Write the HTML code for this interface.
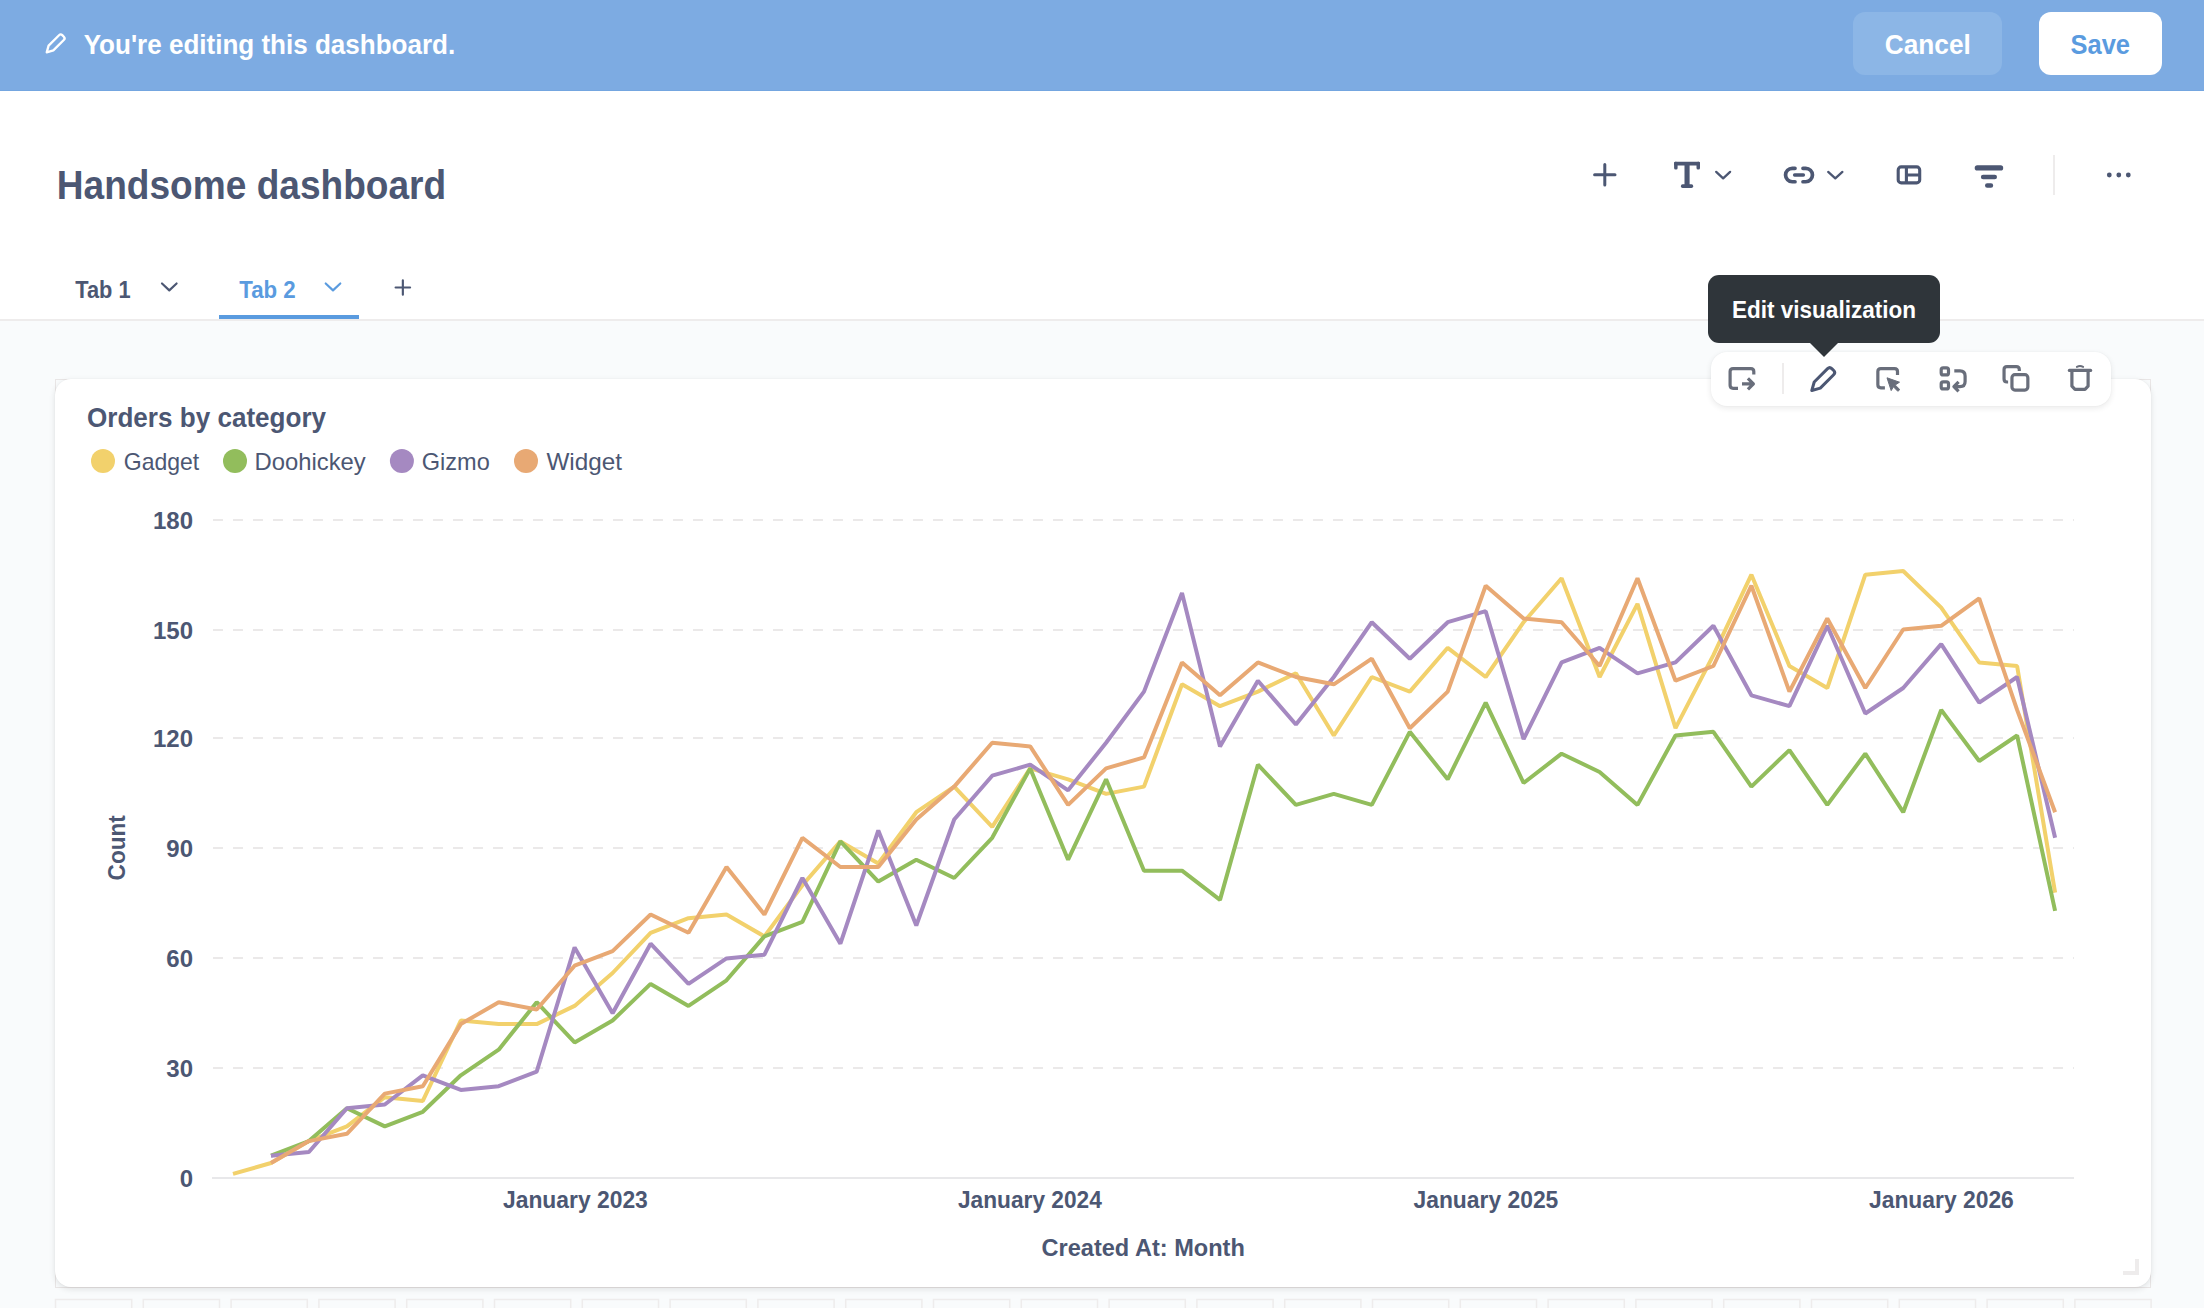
<!DOCTYPE html>
<html lang="en">
<head>
<meta charset="utf-8">
<title>Handsome dashboard</title>
<style>
html,body{margin:0;padding:0}
body{width:2204px;height:1308px;overflow:hidden;background:#F9FBFC;position:relative;
  font-family:"Liberation Sans",sans-serif;color:#4C5773}
svg{position:absolute;left:0;top:0;overflow:visible}
svg text{font-family:"Liberation Sans",sans-serif}
.editbar{position:absolute;left:0;top:0;width:2204px;height:91px;background:linear-gradient(#7DABE2 0,#7DABE2 90px,#74A6E0 90px)}
.btn{position:absolute;top:12px;height:63px;border-radius:12px}
.cancel{left:1853px;width:149px;background:#8CB6E6}
.save{left:2039px;width:123px;background:#fff}
.header{position:absolute;left:0;top:91px;width:2204px;height:228px;background:#fff;border-bottom:2px solid #EEECEC}
.tabline{position:absolute;left:219px;top:315px;width:140px;height:4px;background:#5A9BDF}
.divider{position:absolute;left:2053px;top:155px;width:2px;height:40px;background:#EEECEC}
.cellbg{position:absolute;left:55px;top:379px;width:2096px;height:909px;box-sizing:border-box;border:1px solid #E9E6E6;background:#F9FBFC}
.card{position:absolute;left:55px;top:379px;width:2096px;height:908px;background:#fff;border-radius:16px;
  box-shadow:0 2px 6px rgba(0,0,0,.11),0 0 2px rgba(0,0,0,.04)}
.actions{position:absolute;left:1711px;top:352px;width:400px;height:54px;background:#fff;border-radius:16px;
  box-shadow:0 2px 6px rgba(0,0,0,.09),0 0 2px rgba(0,0,0,.04)}
.adiv{position:absolute;left:1782px;top:363px;width:2px;height:31px;background:#EEECEC}
.tooltip{position:absolute;left:1708px;top:275px;width:232px;height:68px;background:#2F353A;border-radius:11px}
.tooltip:after{content:"";position:absolute;left:102px;top:68px;border-left:14px solid transparent;border-right:14px solid transparent;border-top:14px solid #2F353A}
</style>
</head>
<body>

<!-- edit bar -->
<div class="editbar">
  <div class="btn cancel"></div>
  <div class="btn save"></div>
  <svg width="2204" height="90" viewBox="0 0 2204 90">
    <g transform="translate(45.8,53.2) rotate(-45) scale(0.78)" fill="none" stroke="#fff" stroke-width="3" stroke-linejoin="round">
      <path d="M1.7,0 L9.4,-4.3 L28.3,-4.3 Q31.3,-4.3 31.3,-1.4 L31.3,1.4 Q31.3,4.3 28.3,4.3 L9.4,4.3 Z"/>
    </g>
    <text x="83.69" y="53.5" font-size="28" font-weight="bold" fill="#fff" textLength="371.5" lengthAdjust="spacingAndGlyphs">You're editing this dashboard.</text>
    <text x="1884.84" y="54" font-size="28" font-weight="bold" fill="#fff" textLength="86.0" lengthAdjust="spacingAndGlyphs">Cancel</text>
    <text x="2070.56" y="54" font-size="28" font-weight="bold" fill="#5A9BDF" textLength="59.5" lengthAdjust="spacingAndGlyphs">Save</text>
  </svg>
</div>

<!-- dashboard header -->
<div class="header"></div>
<div class="tabline"></div>
<div class="divider"></div>
<svg width="2204" height="340" viewBox="0 0 2204 340">
  <text x="56.77" y="198.9" font-size="40" font-weight="bold" fill="#4C5773" textLength="389.4" lengthAdjust="spacingAndGlyphs">Handsome dashboard</text>
  <text x="75.29" y="297.9" font-size="24" font-weight="bold" fill="#4C5773" textLength="55.3" lengthAdjust="spacingAndGlyphs">Tab 1</text>
  <text x="239.19" y="297.9" font-size="24" font-weight="bold" fill="#5A9BDF" textLength="56.5" lengthAdjust="spacingAndGlyphs">Tab 2</text>
  <g fill="none" stroke="#4C5773" stroke-width="2.15" stroke-linecap="round" stroke-linejoin="round">
    <path d="M162,283.5 L169.3,290.4 L176.6,283.5"/>
    <path d="M395.6,287.45 H410.1 M402.85,280.2 V294.7"/>
  </g>
  <path d="M325.7,283.5 L333,290.4 L340.3,283.5" fill="none" stroke="#5A9BDF" stroke-width="2.15" stroke-linecap="round" stroke-linejoin="round"/>
  <!-- toolbar icons -->
  <g fill="none" stroke="#4C5773" stroke-linecap="round" stroke-linejoin="round">
    <path d="M1594.6,174.8 H1615 M1604.8,164.6 V185" stroke-width="3"/>
    <path d="M1716.2,171.9 L1723.15,178.3 L1730.1,171.9" stroke-width="2.3"/>
    <path d="M1828.2,171.9 L1835.3,178.3 L1842.4,171.9" stroke-width="2.3"/>
    <g stroke-width="3.7">
      <path d="M1795,168.35 H1792.25 A6.7,6.7 0 0 0 1792.25,181.75 H1795"/>
      <path d="M1803,168.35 H1805.75 A6.7,6.7 0 0 1 1805.75,181.75 H1803"/>
      <path d="M1794.6,175 H1803.4" stroke-width="3.4"/>
    </g>
    <g stroke-width="3.1">
      <rect x="1898.2" y="166.9" width="21.5" height="16" rx="3"/>
      <path d="M1906.4,166.9 V182.9 M1906.4,175 H1919.7" stroke-linecap="butt"/>
    </g>
    <g stroke-width="4.4">
      <path d="M1977.3,167.9 H2000.6" stroke-width="5.2"/><path d="M1983.1,177 H1994.8 M1987.2,185.45 H1991"/>
    </g>
  </g>
  <g fill="#4C5773">
    <!-- T icon -->
    <rect x="1674.1" y="161.8" width="25.9" height="3.8" rx="1.2"/>
    <rect x="1674.1" y="161.8" width="3.5" height="7.8" rx="1.5"/>
    <rect x="1696.5" y="161.8" width="3.5" height="7.8" rx="1.5"/>
    <rect x="1684.5" y="162" width="5.1" height="25"/>
    <rect x="1680.9" y="184.2" width="12.3" height="3.7" rx="1.7"/>
    <circle cx="2109.3" cy="175" r="2.4"/><circle cx="2118.8" cy="175" r="2.4"/><circle cx="2128.3" cy="175" r="2.4"/>
  </g>
</svg>

<!-- grid + card -->
<svg width="2204" height="1308" viewBox="0 0 2204 1308" fill="#F9FBFC" stroke="#EEECEC" stroke-width="1.5"><rect x="55.5" y="1299.5" width="76.2" height="60"/><rect x="143.3" y="1299.5" width="76.2" height="60"/><rect x="231.1" y="1299.5" width="76.2" height="60"/><rect x="318.9" y="1299.5" width="76.2" height="60"/><rect x="406.7" y="1299.5" width="76.2" height="60"/><rect x="494.5" y="1299.5" width="76.2" height="60"/><rect x="582.3" y="1299.5" width="76.2" height="60"/><rect x="670.1" y="1299.5" width="76.2" height="60"/><rect x="757.9" y="1299.5" width="76.2" height="60"/><rect x="845.7" y="1299.5" width="76.2" height="60"/><rect x="933.5" y="1299.5" width="76.2" height="60"/><rect x="1021.3" y="1299.5" width="76.2" height="60"/><rect x="1109.1" y="1299.5" width="76.2" height="60"/><rect x="1196.9" y="1299.5" width="76.2" height="60"/><rect x="1284.7" y="1299.5" width="76.2" height="60"/><rect x="1372.5" y="1299.5" width="76.2" height="60"/><rect x="1460.3" y="1299.5" width="76.2" height="60"/><rect x="1548.1" y="1299.5" width="76.2" height="60"/><rect x="1635.9" y="1299.5" width="76.2" height="60"/><rect x="1723.7" y="1299.5" width="76.2" height="60"/><rect x="1811.5" y="1299.5" width="76.2" height="60"/><rect x="1899.3" y="1299.5" width="76.2" height="60"/><rect x="1987.1" y="1299.5" width="76.2" height="60"/><rect x="2074.9" y="1299.5" width="76.2" height="60"/></svg>
<div class="cellbg"></div>
<div class="card"></div>
<svg width="2204" height="1308" viewBox="0 0 2204 1308">
  <text x="86.99" y="427.2" font-size="28" font-weight="bold" fill="#4C5773" textLength="239.1" lengthAdjust="spacingAndGlyphs">Orders by category</text>
  <circle cx="103" cy="461" r="12" fill="#F2D16C"/>
  <circle cx="235" cy="461" r="12" fill="#92BD5C"/>
  <circle cx="401.9" cy="461" r="12" fill="#A589C1"/>
  <circle cx="526" cy="461" r="12" fill="#E8A974"/>
  <text x="123.79" y="470.2" font-size="24" font-weight="normal" fill="#4C5773" textLength="75.4" lengthAdjust="spacingAndGlyphs">Gadget</text>
  <text x="254.57" y="470.2" font-size="24" font-weight="normal" fill="#4C5773" textLength="111.2" lengthAdjust="spacingAndGlyphs">Doohickey</text>
  <text x="421.76" y="470.2" font-size="24" font-weight="normal" fill="#4C5773" textLength="68.0" lengthAdjust="spacingAndGlyphs">Gizmo</text>
  <text x="546.4" y="470.2" font-size="24" font-weight="normal" fill="#4C5773" textLength="75.6" lengthAdjust="spacingAndGlyphs">Widget</text>
  <g stroke="#EBE9E9" stroke-width="2" stroke-dasharray="10 10"><line x1="213" x2="2074" y1="1068" y2="1068"/><line x1="213" x2="2074" y1="958" y2="958"/><line x1="213" x2="2074" y1="848" y2="848"/><line x1="213" x2="2074" y1="738" y2="738"/><line x1="213" x2="2074" y1="630" y2="630"/><line x1="213" x2="2074" y1="520" y2="520"/></g>
  <line x1="212" x2="2074" y1="1178" y2="1178" stroke="#E8E8EA" stroke-width="2"/>
  <g font-size="24" font-weight="bold" fill="#4C5773"><text x="193" y="1186.7" text-anchor="end">0</text><text x="193" y="1076.7" text-anchor="end">30</text><text x="193" y="966.7" text-anchor="end">60</text><text x="193" y="856.7" text-anchor="end">90</text><text x="193" y="746.7" text-anchor="end">120</text><text x="193" y="638.7" text-anchor="end">150</text><text x="193" y="528.7" text-anchor="end">180</text></g>
  <text x="503.0" y="1207.6" font-size="24" font-weight="bold" fill="#4C5773" textLength="144.8" lengthAdjust="spacingAndGlyphs">January 2023</text><text x="958.0" y="1207.6" font-size="24" font-weight="bold" fill="#4C5773" textLength="143.8" lengthAdjust="spacingAndGlyphs">January 2024</text><text x="1413.5" y="1207.6" font-size="24" font-weight="bold" fill="#4C5773" textLength="144.8" lengthAdjust="spacingAndGlyphs">January 2025</text><text x="1869.0" y="1207.6" font-size="24" font-weight="bold" fill="#4C5773" textLength="144.8" lengthAdjust="spacingAndGlyphs">January 2026</text>
  <text x="1041.5" y="1256" font-size="24" font-weight="bold" fill="#4C5773" textLength="203.3" lengthAdjust="spacingAndGlyphs">Created At: Month</text>
  <g transform="translate(125.2,880.4) rotate(-90)"><text x="0" y="0" font-size="24" font-weight="bold" fill="#4C5773" textLength="65.1" lengthAdjust="spacingAndGlyphs">Count</text></g>
  <g fill="none" stroke-width="4" stroke-linejoin="bevel" stroke-linecap="butt">
    <path stroke="#F2D16C" d="M233.0,1173.9 L271.0,1163.0 L308.9,1141.1 L346.9,1126.4 L384.8,1097.2 L422.8,1100.9 L460.8,1020.5 L498.7,1024.1 L536.7,1024.1 L574.6,1005.9 L612.6,973.0 L650.6,932.8 L688.5,918.2 L726.5,914.5 L764.4,936.4 L802.4,885.3 L840.4,841.4 L878.3,863.4 L916.3,812.2 L954.2,786.6 L992.2,826.8 L1030.2,768.4 L1068.1,779.3 L1106.1,793.9 L1144.0,786.6 L1182.0,684.3 L1220.0,706.2 L1257.9,691.6 L1295.9,673.3 L1333.8,735.5 L1371.8,677.0 L1409.8,691.6 L1447.7,647.8 L1485.7,677.0 L1523.6,622.2 L1561.6,578.3 L1599.6,677.0 L1637.5,603.9 L1675.5,728.2 L1713.4,655.1 L1751.4,574.7 L1789.4,666.0 L1827.3,688.0 L1865.3,574.7 L1903.2,571.0 L1941.2,607.6 L1979.2,662.4 L2017.1,666.0 L2055.1,892.6"/>
    <path stroke="#92BD5C" d="M271.0,1155.7 L308.9,1141.1 L346.9,1108.2 L384.8,1126.4 L422.8,1111.8 L460.8,1075.3 L498.7,1049.7 L536.7,1002.2 L574.6,1042.4 L612.6,1020.5 L650.6,983.9 L688.5,1005.9 L726.5,980.3 L764.4,936.4 L802.4,921.8 L840.4,841.4 L878.3,881.6 L916.3,859.7 L954.2,878.0 L992.2,837.8 L1030.2,768.4 L1068.1,859.7 L1106.1,779.3 L1144.0,870.7 L1182.0,870.7 L1220.0,899.9 L1257.9,764.7 L1295.9,804.9 L1333.8,793.9 L1371.8,804.9 L1409.8,731.8 L1447.7,779.3 L1485.7,702.6 L1523.6,783.0 L1561.6,753.7 L1599.6,772.0 L1637.5,804.9 L1675.5,735.5 L1713.4,731.8 L1751.4,786.6 L1789.4,750.1 L1827.3,804.9 L1865.3,753.7 L1903.2,812.2 L1941.2,709.9 L1979.2,761.0 L2017.1,735.5 L2055.1,910.9"/>
    <path stroke="#A589C1" d="M271.0,1155.7 L308.9,1152.0 L346.9,1108.2 L384.8,1104.5 L422.8,1075.3 L460.8,1089.9 L498.7,1086.2 L536.7,1071.6 L574.6,947.4 L612.6,1013.2 L650.6,943.7 L688.5,983.9 L726.5,958.4 L764.4,954.7 L802.4,878.0 L840.4,943.7 L878.3,830.5 L916.3,925.5 L954.2,819.5 L992.2,775.7 L1030.2,764.7 L1068.1,790.3 L1106.1,742.8 L1144.0,691.6 L1182.0,593.0 L1220.0,746.4 L1257.9,680.7 L1295.9,724.5 L1333.8,677.0 L1371.8,622.2 L1409.8,658.7 L1447.7,622.2 L1485.7,611.2 L1523.6,739.1 L1561.6,662.4 L1599.6,647.8 L1637.5,673.3 L1675.5,662.4 L1713.4,625.8 L1751.4,695.3 L1789.4,706.2 L1827.3,625.8 L1865.3,713.5 L1903.2,688.0 L1941.2,644.1 L1979.2,702.6 L2017.1,677.0 L2055.1,837.8"/>
    <path stroke="#E8A974" d="M271.0,1163.0 L308.9,1141.1 L346.9,1133.8 L384.8,1093.6 L422.8,1086.2 L460.8,1024.1 L498.7,1002.2 L536.7,1009.5 L574.6,965.7 L612.6,951.1 L650.6,914.5 L688.5,932.8 L726.5,867.0 L764.4,914.5 L802.4,837.8 L840.4,867.0 L878.3,867.0 L916.3,819.5 L954.2,786.6 L992.2,742.8 L1030.2,746.4 L1068.1,804.9 L1106.1,768.4 L1144.0,757.4 L1182.0,662.4 L1220.0,695.3 L1257.9,662.4 L1295.9,677.0 L1333.8,684.3 L1371.8,658.7 L1409.8,728.2 L1447.7,691.6 L1485.7,585.7 L1523.6,618.5 L1561.6,622.2 L1599.6,666.0 L1637.5,578.3 L1675.5,680.7 L1713.4,666.0 L1751.4,585.7 L1789.4,691.6 L1827.3,618.5 L1865.3,688.0 L1903.2,629.5 L1941.2,625.8 L1979.2,598.4 L2017.1,709.9 L2055.1,812.2"/>
  </g>
  <path d="M2125,1273 H2137 V1261" fill="none" stroke="#EEECEC" stroke-width="4" stroke-linecap="square"/>
</svg>

<!-- card action bar + tooltip -->
<div class="actions"></div>
<div class="adiv"></div>
<div class="tooltip"></div>
<svg width="2204" height="420" viewBox="0 0 2204 420">
  <text x="1731.99" y="317.7" font-size="24" font-weight="bold" fill="#fff" textLength="184.0" lengthAdjust="spacingAndGlyphs">Edit visualization</text>
  <g fill="none" stroke="#696E7B" stroke-width="3.2" stroke-linecap="butt" stroke-linejoin="round">
    <path d="M1753.8,374.6 V371.6 Q1753.8,368.6 1750.8,368.6 H1733.1 Q1730.1,368.6 1730.1,371.6 V385.3 Q1730.1,388.3 1733.1,388.3 H1738 M1742,383.9 H1753 M1747.9,378.4 L1753.4,383.9 L1747.9,389.4"/>
    <path d="M1897.5,375.1 V371.6 Q1897.5,368.6 1894.5,368.6 H1880.85 Q1877.85,368.6 1877.85,371.6 V384.8 Q1877.85,387.8 1880.85,387.8 H1884.9"/>
    <rect x="1941.2" y="367.8" width="7.3" height="7.1" rx="2"/>
    <rect x="1941.2" y="381.8" width="7.3" height="7.1" rx="2"/>
    <path d="M1954.3,370.9 H1960 Q1965.1,370.9 1965.1,376 V381.5 Q1965.1,386.6 1960,386.6 H1954.5 M1958.6,381.9 L1953.9,386.6 L1958.6,391.3"/>
    <rect x="2011.95" y="374.65" width="15.9" height="15.4" rx="3"/>
    <path d="M2019.3,371.1 V369.6 Q2019.3,366.65 2016.3,366.65 H2007 Q2004.05,366.65 2004.05,369.6 V379 Q2004.05,382 2007,382 H2008.1"/>
    <path d="M2069.4,370.4 H2090.6" stroke-linecap="round"/>
    <path d="M2071.9,371 V386.2 L2075,389.3 H2085 L2088.1,386.2 V371"/>
    <path d="M2076.9,366.9 Q2080,365.3 2083.1,366.9" stroke-width="2" stroke-linecap="round"/>
  </g>
  <path d="M1887,377.8 L1899.5,382.2 L1895.2,385 L1899.8,389.6 L1897.8,391.3 L1893.4,386.8 L1891.2,390.6 Z" fill="#696E7B" stroke="#696E7B" stroke-width="1" stroke-linejoin="round"/>
  <g transform="translate(1810.6,391.7) rotate(-45)" fill="none" stroke="#4C5773" stroke-width="3" stroke-linejoin="round">
    <path d="M1.7,0 L9.4,-4.3 L28.3,-4.3 Q31.3,-4.3 31.3,-1.4 L31.3,1.4 Q31.3,4.3 28.3,4.3 L9.4,4.3 Z"/>
  </g>
</svg>

<script>(function(){var w=window.innerWidth;if(w&&Math.abs(w-2204)>1){document.documentElement.style.zoom=w/2204;}})();</script>
</body>
</html>
